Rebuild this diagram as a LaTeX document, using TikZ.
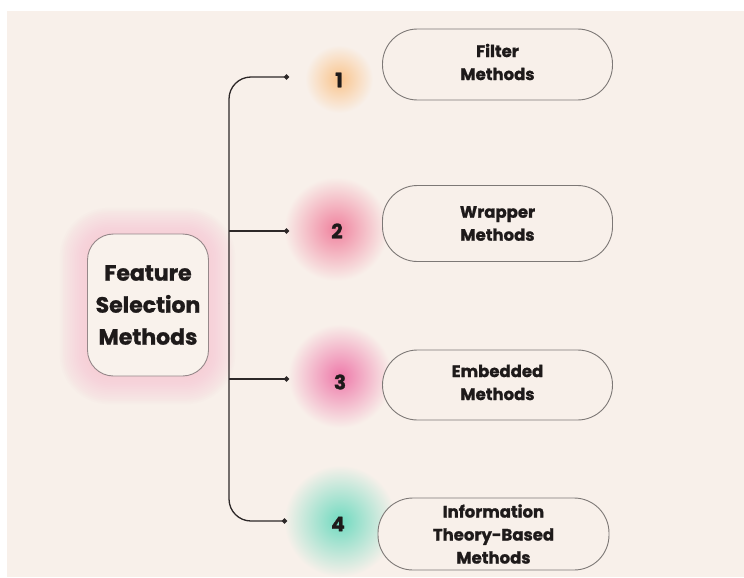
\documentclass[tikz,border=0pt]{standalone}
\usepackage{fontspec}
\setmainfont{Poppins}[BoldFeatures={FakeBold=1.2}]
\usetikzlibrary{arrows.meta}
\definecolor{bg}{RGB}{248,240,234}
\definecolor{boxfill}{RGB}{249,242,236}
\definecolor{glowpink}{RGB}{246,196,212}
\definecolor{gorange}{RGB}{250,196,140}
\definecolor{gpink}{RGB}{240,130,158}
\definecolor{gmag}{RGB}{238,122,170}
\definecolor{gteal}{RGB}{112,218,192}
\definecolor{ink}{RGB}{30,26,26}
\definecolor{linec}{RGB}{45,40,40}
\definecolor{pillline}{RGB}{125,120,118}
\tikzset{
  pill/.style={draw=pillline, line width=0.9pt, fill=bg, rounded corners=35pt, minimum width=230pt, minimum height=71pt, inner sep=0pt},
  pilltext/.style={font=\bfseries\fontsize{16.5}{23}\selectfont, text=ink, align=center},
  numtext/.style={font=\bfseries\fontsize{20}{22}\selectfont, text=ink},
  branch/.style={draw=linec, line width=1.3pt, -{Circle[length=5pt]}, rounded corners=22pt},
}
\begin{document}
\begin{tikzpicture}[x=1pt,y=-1pt]
\useasboundingbox (0,0) rectangle (744,578);
\fill[white] (0,0) rectangle (744,578);
\fill[bg] (7,11) rectangle (744,577);
% main box glow
\foreach \i in {1,...,16}{
  \fill[glowpink, opacity=0.06, rounded corners=25pt+1.5*\i pt]
    (87-1.7*\i,235-1.7*\i) rectangle (208+1.7*\i,377+1.7*\i);
}
% number glows
\shade[inner color=gorange, outer color=bg] (339,79) circle (34);
\shade[inner color=gpink, outer color=bg] (336,229) circle (52);
\shade[inner color=gmag, outer color=bg] (340,376) circle (52);
\shade[inner color=gteal, outer color=bg] (340,521) circle (56);
% main box
\node[draw=pillline!80!glowpink, line width=0.9pt, fill=boxfill, rounded corners=26pt,
  minimum width=121pt, minimum height=142pt, inner sep=0pt,
  font=\bfseries\fontsize{22}{32}\selectfont, text=ink, align=center]
  (main) at (148,305) {Feature\\Selection\\Methods};
% pills
\node[pill, minimum height=71pt] (p1) at (497.5,64.5) {};
\node[pilltext] at (497.5,62) {Filter\\Methods};
\node[pill, pilltext, minimum height=76pt] (p2) at (497.5,223.5) {Wrapper\\Methods};
\node[pill, minimum height=70pt] (p3) at (497.5,385) {};
\node[pilltext] at (497.5,382.5) {Embedded\\Methods};
\node[pill, minimum height=72pt, minimum width=231pt] (p4) at (493.5,534) {};
\node[pilltext] at (p4) {Information\\Theory-Based\\Methods};
% numbers
\node[numtext] (n1) at (339,80) {1};
\node[numtext] (n2) at (337,231) {2};
\node[numtext] (n3) at (340,382) {3};
\node[numtext] (n4) at (338,524) {4};
% connector ends
\coordinate (trunk) at (229,303);
\coordinate (a1) at (289,77);
\coordinate (a2) at (289,231);
\coordinate (a3) at (289,379);
\coordinate (a4) at (287,521);
\draw[branch] (trunk) |- (a1);
\draw[branch] (trunk) |- (a4);
\draw[branch] (trunk |- a2) -- (a2);
\draw[branch] (trunk |- a3) -- (a3);
\end{tikzpicture}
\end{document}
